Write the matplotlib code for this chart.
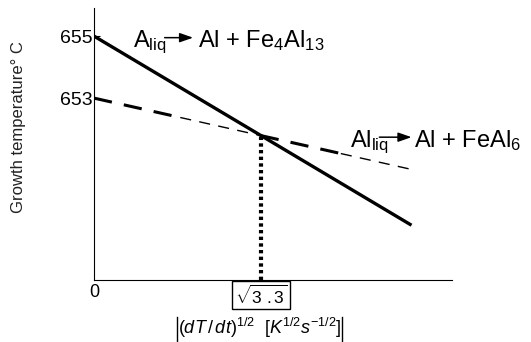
import numpy as np
import matplotlib.pyplot as plt

plt.rcParams['font.family'] = ['Liberation Sans', 'DejaVu Sans']
plt.rcParams['mathtext.fontset'] = 'custom'
plt.rcParams['mathtext.rm'] = 'Liberation Sans'
plt.rcParams['mathtext.it'] = 'Liberation Sans:italic'

# line end points
x_end = 3.46
solid_y = [655.0, 648.9]   # A_liq -> Al + Fe4Al13
dash_y = [653.0, 650.7]    # Al_liq -> Al + FeAl6
x_cross = np.sqrt(3.3)
# the dashed line alternates thick / thin pieces
dash_breaks = [0.0, 0.94, x_cross, 2.69, x_end]
dash_widths = [2.2, 1.0, 2.2, 1.0]
yticks = [655, 653]

fig = plt.figure(figsize=(5.31, 3.42), dpi=100)
ax = fig.add_axes([0.177, 0.181, 0.674, 0.795])

ax.plot([0, x_end], solid_y, color='black', lw=2.4, solid_capstyle='butt')

def dash_line(x):
    return dash_y[0] + (dash_y[1] - dash_y[0]) * np.asarray(x) / x_end

for i in range(len(dash_widths)):
    xs = np.array([dash_breaks[i], dash_breaks[i + 1]])
    ax.plot(xs, dash_line(xs), color='black', lw=dash_widths[i],
            dashes=(6, 4) if dash_widths[i] > 2 else (8, 6))

ax.plot([x_cross, x_cross], [647.13, dash_line(x_cross)], color='black',
        lw=3, dashes=(0.8, 0.8))

ax.set_xlim(0, 3.9)
ax.set_ylim(647.13, 655.9)
ax.spines['top'].set_visible(False)
ax.spines['right'].set_visible(False)
ax.set_yticks(yticks)
ax.set_yticklabels([str(v) for v in yticks], fontsize=14)
ax.tick_params(axis='y', direction='in', length=4, pad=1)
ax.set_xticks([0])
ax.set_xticklabels(['0'], fontsize=13)
ax.tick_params(axis='x', length=0, pad=3)

ax.set_ylabel('Growth temperature° C', fontsize=12, color='#222222')
ax.yaxis.set_label_coords(-0.19, 0.5625)

arrow_kw = dict(arrowstyle='-|>,head_length=0.8,head_width=0.28', color='black',
                lw=1.1, shrinkA=0, shrinkB=0)

# reaction labels
ax.text(0.42, 654.65, r'A$_{\rm liq}$', fontsize=17, ha='left', va='baseline')
ax.annotate('', xy=(1.08, 654.95), xytext=(0.77, 654.95), arrowprops=arrow_kw)
ax.text(1.13, 654.65, r'Al + Fe$_4$Al$_{13}$', fontsize=17, ha='left', va='baseline')

ax.text(2.785, 651.42, r'Al$_{\rm liq}$', fontsize=17, ha='left', va='baseline')
ax.annotate('', xy=(3.46, 651.74), xytext=(3.11, 651.74), arrowprops=arrow_kw,
            annotation_clip=False)
ax.text(3.49, 651.42, r'Al + FeAl$_6$', fontsize=17, ha='left', va='baseline',
        clip_on=False)

# x axis labels
fig.text(261 / 531, 1 - 295 / 342, r'$\sqrt{3\ .3}$', fontsize=12.5, ha='center', va='center',
         bbox=dict(boxstyle='square,pad=0.15', fc='white', ec='black', lw=1))
fig.text(260 / 531, 1 - 328 / 342,
         r'$(dT\,/\,dt)^{1/2}\ \ [K^{1/2}s^{-1/2}]$',
         fontsize=13, ha='center', va='center')
for bx in (177, 342):
    fig.add_artist(plt.Line2D([bx / 531, bx / 531], [1 - 341 / 342, 1 - 317 / 342],
                              color='black', lw=1))

fig.savefig('out.png', dpi=100)
